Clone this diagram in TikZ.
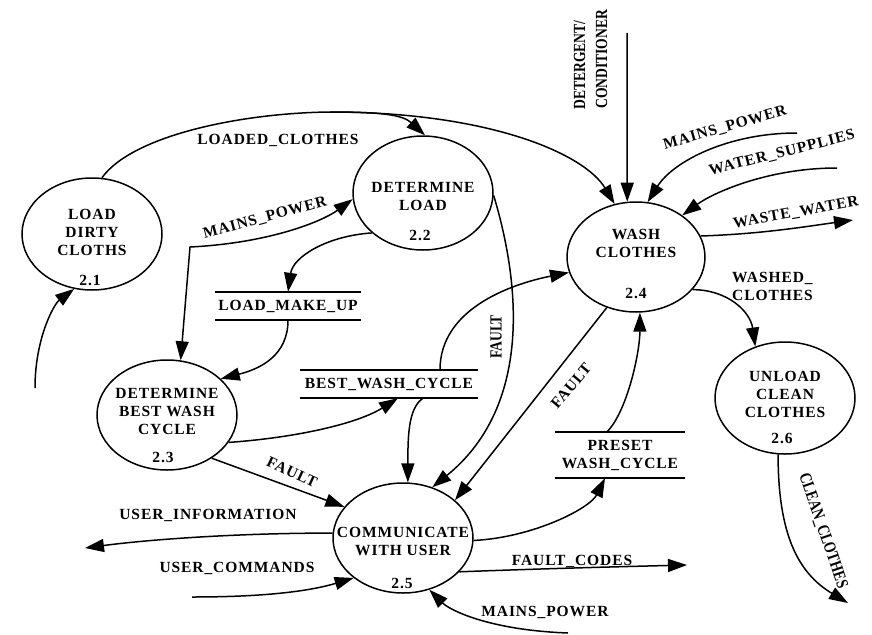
\documentclass[tikz,border=0pt]{standalone}
\usepackage{fontspec}
\setmainfont{Liberation Serif}
\newfontfamily\dfdfont{Liberation Serif}[LetterSpace=6]
\newfontfamily\condfont{Liberation Serif}[FakeStretch=0.8]
\usetikzlibrary{arrows.meta,shapes.geometric}

\tikzset{
  proc/.style={draw, line width=1.5pt, ellipse, minimum width=140pt,
    minimum height=112pt, inner sep=0pt},
  lbl/.style={font=\dfdfont\bfseries\fontsize{15.5}{18}\selectfont,
    inner sep=0pt, align=center},
  narrow/.style={font=\condfont\bfseries\fontsize{17}{22}\selectfont,
    inner sep=0pt},
  tip/.tip={Triangle[length=19pt,width=13pt]},
  flow/.style={line width=1.5pt, -tip},
  flowline/.style={line width=1.5pt},
  storeline/.style={line width=1.5pt},
}

\begin{document}
\begin{tikzpicture}[x=1pt,y=-1pt]
\useasboundingbox (0,0) rectangle (872,634);

% processes
\node[proc] (p21) at (92,234) {};
\node[proc, minimum height=114pt] (p22) at (423,193) {};
\node[proc, minimum height=110pt] (p23) at (167,415) {};
\node[proc, minimum width=138pt, minimum height=110pt] (p24) at (636,257) {};
\node[proc, minimum height=110pt] (p25) at (403,538) {};
\node[proc] (p26) at (785,398) {};

\node[lbl] at (92,232) {LOAD\\DIRTY\\CLOTHS};
\node[lbl] at (90,280) {2.1};
\node[lbl] at (423,196) {DETERMINE\\LOAD};
\node[lbl] at (420,235) {2.2};
\node[lbl] at (167,411) {DETERMINE\\BEST WASH\\CYCLE};
\node[lbl] at (163,457) {2.3};
\node[lbl] at (636,243) {WASH\\CLOTHES};
\node[lbl] at (636,293) {2.4};
\node[lbl] at (403,541) {COMMUNICATE\\WITH USER};
\node[lbl] at (402,583) {2.5};
\node[lbl] at (785,394) {UNLOAD\\CLEAN\\CLOTHES};
\node[lbl] at (782,438) {2.6};

% data stores
\node[lbl, minimum width=145pt, minimum height=28pt] (s1) at (288,306) {LOAD\_MAKE\_UP};
\node[lbl, minimum width=178pt, minimum height=28pt] (s2) at (389,384) {BEST\_WASH\_CYCLE};
\node[lbl, minimum width=130pt, minimum height=46pt] (s3) at (620,455) {PRESET\\WASH\_CYCLE};
\foreach \s in {s1,s2,s3}
  \draw[storeline] (\s.north west) -- (\s.north east) (\s.south west) -- (\s.south east);

% free ends of the flows
\coordinate (lcsplit) at (330,112);
\coordinate (mpbend) at (190,247);
\coordinate (fcend) at (687,565);
\coordinate (mpsrc) at (568,633);
\coordinate (uiend) at (85,548);
\coordinate (ucsrc) at (192,597);
\coordinate (ldsrc) at (35,388);
\coordinate (detsrc) at (627,33);
\coordinate (mpwsrc) at (797,133);
\coordinate (wssrc) at (837,168);
\coordinate (wwend) at (853,220);
\coordinate (ccend) at (848,603);

% flows
\draw[flowline] (p21.80) .. controls +(30,-42) and +(-90,1) .. (lcsplit);
\draw[flow] (lcsplit) .. controls +(55,0) and +(-22,-20) .. (p22.88);
\draw[flow] (lcsplit) .. controls +(160,0) and +(-30,-50) .. (p24.112);
\draw[line width=1.5pt, tip-tip] (p23.76) -- (mpbend) .. controls +(80,-4) and +(-30,22) .. (p22.185);
\draw[flow] (p22.218) .. controls +(-45,3) and +(5,-35) .. (s1.north);
\draw[flow] (s1.south) .. controls +(0,35) and +(40,-10) .. (p23.34);
\draw[flow] (p23.-24) .. controls +(70,-5) and +(-40,25) .. ([xshift=9pt]s2.south);
\draw[flow] ([xshift=51pt]s2.north) .. controls +(0,-60) and +(-60,12) .. (p24.193);
\draw[flow] ([xshift=34pt]s2.south) .. controls +(-15,10) and +(0,-45) .. (p25.85);
\draw[flow] (p23.-44) -- (p25.152);
\draw[flow] (p22.-2) .. controls +(30,100) and +(95,-77) .. (p25.60);
\draw[flow] (p24.240) -- (p25.36);
\draw[flow] ([xshift=-13pt]s3.north) .. controls +(20,-20) and +(0,40) .. (p24.274);
\draw[flow] (p25.-2) .. controls +(60,-3) and +(-15,30) .. ([xshift=-15pt]s3.south);
\draw[flow] (p25.-31) .. controls +(80,-3) and +(-80,2) .. (fcend);
\draw[flow] (mpsrc) .. controls +(-80,-3) and +(20,20) .. (p25.-63);
\draw[flow] (p25.176) .. controls +(-100,0) and +(60,-8) .. (uiend);
\draw[flow] (ucsrc) .. controls +(80,0) and +(-40,12) .. (p25.219);
\draw[flow] (ldsrc) .. controls +(0,-50) and +(-20,15) .. (p21.252);
\draw[flow] (detsrc) -- (p24.99);
\draw[flow] (mpwsrc) .. controls +(-70,0) and +(25,-40) .. (p24.78);
\draw[flow] (wssrc) .. controls +(-70,0) and +(30,-22) .. (p24.42);
\draw[flow] (p24.18) .. controls +(60,-2) and +(-50,7) .. (wwend);
\draw[flow] (p24.-30) .. controls +(35,0) and +(-5,-35) .. (p26.120);
\draw[flow] (p26.263) .. controls +(0,80) and +(-50,-30) .. (ccend);

% flow labels
\node[lbl] at (278,140) {LOADED\_CLOTHES};
\node[lbl, rotate=15] at (265,218) {MAINS\_POWER};
\node[lbl, rotate=-25] at (292,472) {FAULT};
\node[narrow, rotate=90] at (496,337) {FAULT};
\node[lbl, rotate=50] at (571,386) {FAULT};
\node[lbl] at (208,515) {USER\_INFORMATION};
\node[lbl] at (237,568) {USER\_COMMANDS};
\node[lbl] at (572,561) {FAULT\_CODES};
\node[lbl] at (545,612) {MAINS\_POWER};
\node[narrow, rotate=90, anchor=base west] at (585,110) {DETERGENT/};
\node[narrow, rotate=90, anchor=base west] at (607,109) {CONDITIONER};
\node[lbl, rotate=16] at (725,128) {MAINS\_POWER};
\node[lbl, rotate=14] at (782,153) {WATER\_SUPPLIES};
\node[lbl, rotate=10] at (796,213) {WASTE\_WATER};
\node[lbl, align=left, anchor=west] at (732,286) {WASHED\_\\CLOTHES};
\node[narrow, rotate=-71] at (823,531) {CLEAN\_CLOTHES};
\end{tikzpicture}
\end{document}
